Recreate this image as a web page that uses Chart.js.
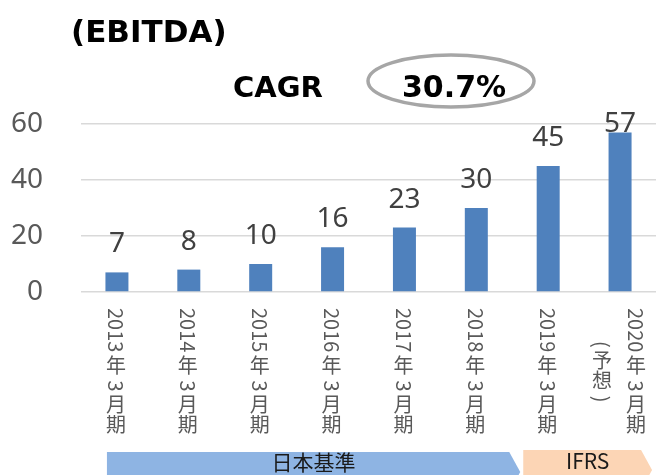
<!DOCTYPE html>
<html>
<head>
<meta charset="utf-8">
<script src="https://cdn.jsdelivr.net/npm/chart.js@4/dist/chart.umd.min.js"></script>
<style>
  html, body { margin: 0; padding: 0; background: #fff; }
  #wrap { width: 656px; height: 475px; }
</style>
</head>
<body>
<div id="wrap"><canvas id="ebitdaChart" width="656" height="475"></canvas></div>
<script>
// data
const categories = ['2013年3月期', '2014年3月期', '2015年3月期', '2016年3月期',
  '2017年3月期', '2018年3月期', '2019年3月期', ['2020年3月期', '(予想)']];
const ebitda = [7, 8, 10, 16, 23, 30, 45, 57];
const yTicks = [0, 20, 40, 60];
const titleText = '(EBITDA)';
const cagrLabel = 'CAGR';
const cagrValue = '30.7%';
const bandNames = ['日本基準', 'IFRS'];
const bandSplit = 5; // last category under 日本基準

const CJK_FONT = '"Noto Sans CJK JP", "Noto Sans", sans-serif';
const NUM_FONT = '"Noto Sans", "Open Sans", sans-serif';

// vertical text: ascii rotated, CJK upright
const columnLength = (ctx, text, size) => {
  let len = 0, prev = null;
  for (const ch of text) {
    const ascii = ch.charCodeAt(0) < 128;
    if (prev !== null && prev !== ascii) len += 4;
    len += ascii ? ctx.measureText(ch).width : size;
    prev = ascii;
  }
  return len;
};

const drawColumn = (ctx, text, cx, top, size) => {
  let y = top, prev = null;
  for (const ch of text) {
    const ascii = ch.charCodeAt(0) < 128;
    if (prev !== null && prev !== ascii) y += 4;
    if (ascii) {
      const w = ctx.measureText(ch).width;
      ctx.save();
      ctx.translate(cx, y);
      ctx.rotate(Math.PI / 2);
      ctx.textAlign = 'left';
      ctx.textBaseline = 'middle';
      ctx.fillText(ch, 0, 0);
      ctx.restore();
      y += w;
    } else {
      ctx.textAlign = 'center';
      ctx.textBaseline = 'top';
      ctx.fillText(ch, cx, y - 1);
      y += size;
    }
    prev = ascii;
  }
};

const decorPlugin = {
  id: 'decor',
  afterDatasetsDraw(chart) {
    const ctx = chart.ctx;
    const area = chart.chartArea;
    const meta = chart.getDatasetMeta(0);

    // value labels above bars (kept inside plot area like Excel)
    ctx.save();
    ctx.font = '28px ' + NUM_FONT;
    ctx.fillStyle = '#404040';
    ctx.textAlign = 'center';
    ctx.textBaseline = 'alphabetic';
    meta.data.forEach((bar, i) => {
      const base = Math.max(bar.y - 20, area.top + 8);
      ctx.fillText(String(ebitda[i]), bar.x, base);
    });
    ctx.restore();

    // vertical category labels
    const xs = chart.scales.x;
    ctx.save();
    const size = 20;
    ctx.font = size + 'px ' + CJK_FONT;
    ctx.fillStyle = '#595959';
    categories.forEach((lab, i) => {
      const lines = Array.isArray(lab) ? lab : [lab];
      const cx = xs.getPixelForValue(i);
      const top = 308;
      const mainLen = columnLength(ctx, lines[0], size);
      const mid = top + mainLen / 2;
      if (lines.length === 1) {
        drawColumn(ctx, lines[0], cx - 1, top, size);
      } else {
        drawColumn(ctx, lines[0], cx + 16, top, size);
        for (let k = 1; k < lines.length; k++) {
          const len = columnLength(ctx, lines[k], size);
          drawColumn(ctx, lines[k], cx + 16 - 34 * k, mid - len / 2, size);
        }
      }
    });
    ctx.restore();

    // bands at the bottom
    const split = (xs.getPixelForValue(bandSplit) + xs.getPixelForValue(bandSplit + 1)) / 2;
    const left = xs.getPixelForValue(0) - 10;
    const right = xs.getPixelForValue(categories.length - 1) + 32;
    const arrow = (x0, x1, tip, top, h, color) => {
      ctx.beginPath();
      ctx.moveTo(x0, top);
      ctx.lineTo(x1, top);
      ctx.lineTo(tip, top + h / 2);
      ctx.lineTo(x1, top + h);
      ctx.lineTo(x0, top + h);
      ctx.closePath();
      ctx.fillStyle = color;
      ctx.fill();
    };
    ctx.save();
    arrow(left, split - 3, split + 8, 452, 40, '#8EB4E3');
    arrow(split + 11, right - 11, right, 450, 40, '#FCD5B5');
    ctx.font = '21px ' + CJK_FONT;
    ctx.fillStyle = '#1a1a1a';
    ctx.textAlign = 'center';
    ctx.textBaseline = 'top';
    ctx.fillText(bandNames[0], (left + split + 8) / 2, 452);
    ctx.fillText(bandNames[1], (split + 11 + right) / 2, 451);
    ctx.restore();

    // titles and CAGR ellipse
    ctx.save();
    ctx.fillStyle = '#000';
    ctx.textAlign = 'left';
    ctx.textBaseline = 'alphabetic';
    ctx.font = 'bold 31px "DejaVu Sans", sans-serif';
    ctx.fillText(titleText, 71, 42);
    ctx.font = 'bold 29px "DejaVu Sans", sans-serif';
    ctx.fillText(cagrLabel, 233, 97);
    ctx.font = 'bold 30px "DejaVu Sans", sans-serif';
    ctx.fillText(cagrValue, 402, 97);
    ctx.beginPath();
    ctx.ellipse(451, 81, 83, 26, 0, 0, Math.PI * 2);
    ctx.strokeStyle = '#A6A6A6';
    ctx.lineWidth = 3.5;
    ctx.stroke();
    ctx.restore();
  }
};

const ctx = document.getElementById('ebitdaChart').getContext('2d');
const chart = new Chart(ctx, {
  type: 'bar',
  data: {
    labels: categories,
    datasets: [{
      label: 'EBITDA',
      data: ebitda,
      backgroundColor: '#4F81BD',
      borderWidth: 0,
      categoryPercentage: 1,
      barPercentage: 0.32
    }]
  },
  options: {
    responsive: false,
    animation: false,
    devicePixelRatio: 1,
    layout: { padding: { top: 124, bottom: 183, left: 0, right: 0 } },
    plugins: { legend: { display: false }, tooltip: { enabled: false } },
    scales: {
      x: {
        display: false
      },
      y: {
        min: 0,
        max: 60,
        afterBuildTicks: s => { s.ticks = yTicks.map(v => ({ value: v })); },
        afterFit: s => { s.width = 81; },
        border: { display: false },
        grid: { color: '#D9D9D9', lineWidth: 1.5, drawTicks: false },
        ticks: {
          padding: 38,
          color: '#595959',
          font: { family: NUM_FONT, size: 28 }
        }
      }
    }
  },
  plugins: [decorPlugin]
});
</script>
</body>
</html>
